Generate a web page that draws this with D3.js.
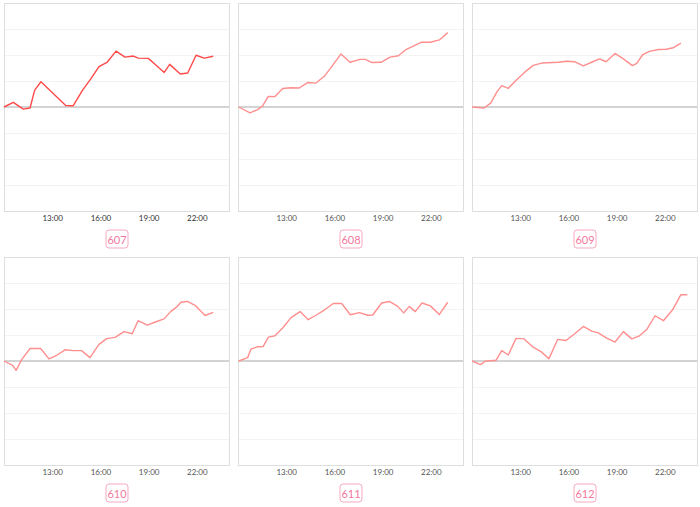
<!DOCTYPE html>
<html>
<head>
<meta charset="utf-8">
<script src="https://cdn.jsdelivr.net/npm/d3@7"></script>
<style>
  html, body { margin: 0; padding: 0; background: #fff; }
  svg { display: block; }
</style>
</head>
<body>
<svg id="chart" width="700" height="507"></svg>
<script>
// ---- data (time = hour of day, value = relative change in grid units) ----
const panelIds = ["607", "608", "609", "610", "611", "612"];
const tickHours = [13, 16, 19, 22];
const tickLabels = ["13:00", "16:00", "19:00", "22:00"];

const times607 = [10.0,10.58,11.2,11.62,11.91,12.3,13.84,14.31,14.87,15.4,15.91,16.43,16.97,17.53,18.05,18.36,18.98,19.5,19.97,20.31,20.97,21.43,21.95,22.46,23.02];
const values607 = [0,0.18,-0.08,-0.04,0.65,0.97,0.06,0.05,0.63,1.08,1.55,1.73,2.15,1.92,1.96,1.88,1.87,1.59,1.33,1.64,1.27,1.31,1.99,1.88,1.95];

const times608 = [10.04,10.75,11.22,11.53,11.89,12.3,12.78,13.25,13.81,14.33,14.85,15.37,15.89,16.41,16.97,17.59,17.92,18.34,18.9,19.46,19.98,20.45,20.87,21.39,21.97,22.53,23.05];
const values608 = [0,-0.23,-0.10,0.04,0.41,0.40,0.71,0.74,0.73,0.94,0.92,1.18,1.60,2.04,1.72,1.83,1.83,1.71,1.72,1.92,1.97,2.21,2.33,2.49,2.49,2.58,2.86];

const times609 = [10.0,10.75,11.16,11.57,11.85,12.26,12.78,13.3,13.81,14.33,15.37,15.89,16.41,16.93,17.51,17.93,18.34,18.9,19.42,19.98,20.25,20.62,21.04,21.6,22.07,22.53,23.0];
const values609 = [0,-0.04,0.15,0.60,0.82,0.72,1.05,1.35,1.60,1.69,1.72,1.76,1.74,1.58,1.74,1.85,1.74,2.06,1.85,1.59,1.68,2.01,2.14,2.21,2.22,2.28,2.46];

const times610 = [10.0,10.54,10.75,11.1,11.62,12.28,12.8,13.28,13.8,14.31,14.83,15.35,15.91,16.39,16.91,17.47,17.98,18.34,18.92,19.46,19.96,20.37,20.75,21.01,21.41,21.89,22.51,23.02];
const values610 = [0,-0.17,-0.36,0.05,0.48,0.48,0.08,0.22,0.43,0.40,0.40,0.13,0.64,0.86,0.91,1.13,1.05,1.55,1.38,1.51,1.62,1.90,2.08,2.26,2.29,2.14,1.75,1.87];

const times611 = [10.04,10.6,10.81,11.22,11.57,11.89,12.3,12.78,13.3,13.86,14.37,14.85,15.37,15.93,16.45,16.99,17.55,18.07,18.38,18.94,19.42,19.94,20.31,20.66,21.03,21.45,21.97,22.53,23.05];
const values611 = [0,0.13,0.46,0.55,0.56,0.92,0.97,1.27,1.67,1.90,1.59,1.76,1.96,2.21,2.21,1.78,1.86,1.76,1.77,2.23,2.29,2.10,1.85,2.10,1.90,2.23,2.12,1.79,2.26];

const times612 = [10.0,10.54,10.81,11.5,11.85,12.26,12.74,13.24,13.81,14.29,14.79,15.33,15.85,16.41,16.93,17.45,17.86,18.38,18.9,19.42,19.94,20.42,20.87,21.39,21.91,22.47,23.0,23.4];
const values612 = [0,-0.14,-0.01,0.03,0.40,0.23,0.87,0.85,0.53,0.36,0.09,0.83,0.79,1.06,1.33,1.15,1.08,0.88,0.73,1.13,0.85,0.97,1.21,1.74,1.55,1.96,2.55,2.55];

const seriesTimes = [times607, times608, times609, times610, times611, times612];
const seriesValues = [values607, values608, values609, values610, values611, values612];
const lineColors = ["#ff4a4a", "#ff8f8f", "#ff8f8f", "#ff8f8f", "#ff8f8f", "#ff8f8f"];
const tickColors = ["#333", "#555", "#555", "#555", "#555", "#555"];

// ---- layout ----
const svg = d3.select("#chart");
const pw = 225, ph = 208;
const colX = [4, 238, 472];
const rowY = [3, 257];

const x = d3.scaleLinear().domain([10, 24]).range([0, pw]);
const y = d3.scaleLinear().domain([-4, 4]).range([ph, 0]);
const line = d3.line().x(d => x(d[0])).y(d => y(d[1]));

panelIds.forEach((id, i) => {
  const g = svg.append("g")
    .attr("transform", `translate(${colX[i % 3]},${rowY[Math.floor(i / 3)]})`);

  // grid lines
  g.selectAll("line.grid")
    .data([-3, -2, -1, 1, 2, 3])
    .join("line")
    .attr("x1", 0).attr("x2", pw)
    .attr("y1", d => y(d) + 0.5).attr("y2", d => y(d) + 0.5)
    .attr("stroke", "#f3f3f3").attr("stroke-width", 1);

  // frame
  g.append("rect")
    .attr("x", 0.5).attr("y", 0.5)
    .attr("width", pw).attr("height", ph)
    .attr("fill", "none").attr("stroke", "#dedede").attr("stroke-width", 1);

  // zero line
  g.append("line")
    .attr("x1", 0).attr("x2", pw)
    .attr("y1", y(0)).attr("y2", y(0))
    .attr("stroke", "#c4c4c4").attr("stroke-width", 1.5);

  // x axis labels
  const ax = g.append("g")
    .attr("transform", `translate(0,${ph})`)
    .call(d3.axisBottom(x).tickValues(tickHours)
      .tickFormat((d, k) => tickLabels[k]).tickSize(0).tickPadding(4));
  ax.select(".domain").remove();
  ax.selectAll("text")
    .attr("fill", tickColors[i])
    .style("font-family", "Lato, 'Open Sans', sans-serif")
    .style("font-size", "8px");

  // series line
  const pts = seriesTimes[i].map((t, k) => [t, seriesValues[i][k]]);
  g.append("path")
    .datum(pts)
    .attr("d", line)
    .attr("fill", "none")
    .attr("stroke", lineColors[i])
    .attr("stroke-width", 1.4)
    .attr("stroke-linejoin", "round");

  // id badge
  const bw = 22, bh = 18;
  const bx = pw / 2 - bw / 2 + 0.5, by = ph + 19;
  g.append("rect")
    .attr("x", bx).attr("y", by)
    .attr("width", bw).attr("height", bh)
    .attr("rx", 3).attr("ry", 3)
    .attr("fill", "#fff")
    .attr("stroke", "#f6a9c0").attr("stroke-width", 1);
  g.append("text")
    .attr("x", pw / 2 + 0.5).attr("y", by + bh / 2 + 0.5)
    .attr("text-anchor", "middle")
    .attr("dominant-baseline", "central")
    .attr("fill", "#f2789e")
    .style("font-family", "Lato, 'Open Sans', sans-serif")
    .style("font-size", "11px")
    .text(id);
});
</script>
</body>
</html>
